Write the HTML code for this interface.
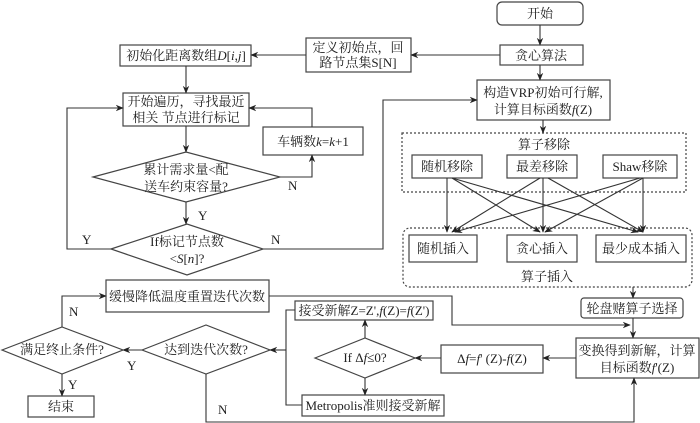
<!DOCTYPE html>
<html><head><meta charset="utf-8"><style>
body{margin:0;background:#fff}
svg{display:block}
text{font-family:"Liberation Serif","Noto Serif CJK SC",serif;font-size:13px;fill:#222}
</style></head><body>
<svg width="700" height="423" viewBox="0 0 700 423" xmlns="http://www.w3.org/2000/svg">
<defs><marker id="a" viewBox="0 0 10 10" refX="9" refY="5" markerWidth="8" markerHeight="8" orient="auto" markerUnits="userSpaceOnUse"><path d="M0,1 L10,5 L0,9 L3,5z" fill="#222"/></marker></defs>
<g fill="none" stroke="#444" stroke-width="1.2">
<rect x="497" y="2" width="86" height="23" rx="5"/>
<rect x="500" y="45" width="83" height="20"/>
<rect x="477" y="80" width="133" height="40"/>
<rect x="402" y="133" width="284" height="59" stroke-dasharray="2,2"/>
<rect x="412" y="155" width="70" height="23"/>
<rect x="507" y="155" width="70" height="23"/>
<rect x="603" y="155" width="74" height="23"/>
<rect x="403" y="228" width="289" height="59" rx="7" stroke-dasharray="2,2"/>
<rect x="409" y="235" width="68" height="27"/>
<rect x="507" y="235" width="70" height="27"/>
<rect x="596" y="235" width="90" height="27"/>
<rect x="120" y="45" width="131" height="21"/>
<rect x="306" y="38" width="105" height="34"/>
<rect x="123" y="93" width="126" height="33"/>
<rect x="263" y="127" width="100" height="28"/>
<polygon points="93,177 186,152 280,177 186,202"/>
<polygon points="111,249 187,224 263,249 187,275"/>
<rect x="106" y="280" width="163" height="32"/>
<polygon points="2,350 62,327 123,350 62,374"/>
<polygon points="142,350 206,325 270,350 206,374"/>
<rect x="28" y="396" width="66" height="21"/>
<rect x="295" y="301" width="138" height="19"/>
<rect x="302" y="395" width="142" height="21"/>
<polygon points="315,358 365,338 415,358 365,378"/>
<rect x="441" y="345" width="102" height="28"/>
<rect x="576" y="338" width="123" height="40"/>
<rect x="581" y="298" width="102" height="20" rx="3"/>
</g>
<g fill="none" stroke="#333" stroke-width="1.1" marker-end="url(#a)">
<path d="M540,25 V45"/>
<path d="M540,65 V80"/>
<path d="M543,120 V133"/>
<path d="M500,55 H411"/>
<path d="M306,55 H251"/>
<path d="M186,66 V93"/>
<path d="M186,126 V152"/>
<path d="M280,177 H312 V155"/>
<path d="M312,127 V108 H249"/>
<path d="M186,202 V224"/>
<path d="M111,249 H67 V108 H123"/>
<path d="M263,249 H383 V100 H477"/>
<path d="M447,178 V232"/><path d="M452,178 L540,232"/><path d="M452,178 L638,232"/>
<path d="M540,178 L452,232"/><path d="M543,178 V232"/><path d="M548,178 L643,232"/>
<path d="M640,178 L455,232"/><path d="M643,178 L545,232"/><path d="M643,178 V232"/>
<path d="M633,287 V298"/>
<path d="M633,318 V338"/>
<path d="M269,296 H452 V325 H630"/>
<path d="M576,358 H543"/>
<path d="M441,358 H415"/>
<path d="M365,338 V320"/>
<path d="M365,378 V395"/>
<path d="M295,310 H286 V405 H302" marker-end="none"/>
<path d="M286,350 H270"/>
<path d="M142,350 H123"/>
<path d="M62,327 V296 H106"/>
<path d="M62,374 V396"/>
<path d="M206,374 V422 H634 V378"/>
</g>
<g text-anchor="middle">
<text x="540" y="18">开始</text>
<text x="541" y="60">贪心算法</text>
<text x="543" y="97">构造VRP初始可行解,</text>
<text x="543" y="114">计算目标函数<tspan font-style="italic">f</tspan>(Z)</text>
<text x="544" y="149">算子移除</text>
<text x="447" y="171">随机移除</text>
<text x="542" y="171">最差移除</text>
<text x="640" y="171">Shaw移除</text>
<text x="443" y="253">随机插入</text>
<text x="542" y="253">贪心插入</text>
<text x="641" y="253">最少成本插入</text>
<text x="547" y="281">算子插入</text>
<text x="186" y="60">初始化距离数组<tspan font-style="italic">D</tspan>[<tspan font-style="italic">i,j</tspan>]</text>
<text x="358" y="52">定义初始点，回</text>
<text x="358" y="67">路节点集S[N]</text>
<text x="186" y="106">开始遍历，寻找最近</text>
<text x="186" y="122">相关 节点进行标记</text>
<text x="313" y="146">车辆数<tspan font-style="italic">k</tspan>=<tspan font-style="italic">k</tspan>+1</text>
<text x="186" y="174">累计需求量&lt;配</text>
<text x="186" y="191">送车约束容量?</text>
<text x="187" y="246">If标记节点数</text>
<text x="187" y="263">&lt;<tspan font-style="italic">S</tspan>[<tspan font-style="italic">n</tspan>]?</text>
<text x="187" y="301">缓慢降低温度重置迭代次数</text>
<text x="62" y="354">满足终止条件?</text>
<text x="206" y="354">达到迭代次数?</text>
<text x="61" y="411">结束</text>
<text x="364" y="315">接受新解Z=Z',<tspan font-style="italic">f</tspan>(Z)=<tspan font-style="italic">f</tspan>(Z')</text>
<text x="373" y="410">Metropolis准则接受新解</text>
<text x="365" y="362">If Δ<tspan font-style="italic">f</tspan>≤0?</text>
<text x="492" y="363">Δ<tspan font-style="italic">f</tspan>=<tspan font-style="italic">f</tspan>' (Z)-<tspan font-style="italic">f</tspan>(Z)</text>
<text x="637" y="355">变换得到新解，计算</text>
<text x="637" y="372">目标函数<tspan font-style="italic">f</tspan>'(Z)</text>
<text x="632" y="313">轮盘赌算子选择</text>
</g>
<g>
<text x="288" y="190">N</text>
<text x="198" y="220">Y</text>
<text x="82" y="244">Y</text>
<text x="271" y="244">N</text>
<text x="69" y="316">N</text>
<text x="127" y="370">Y</text>
<text x="68" y="389">Y</text>
<text x="218" y="414">N</text>
</g>
</svg>
</body></html>
